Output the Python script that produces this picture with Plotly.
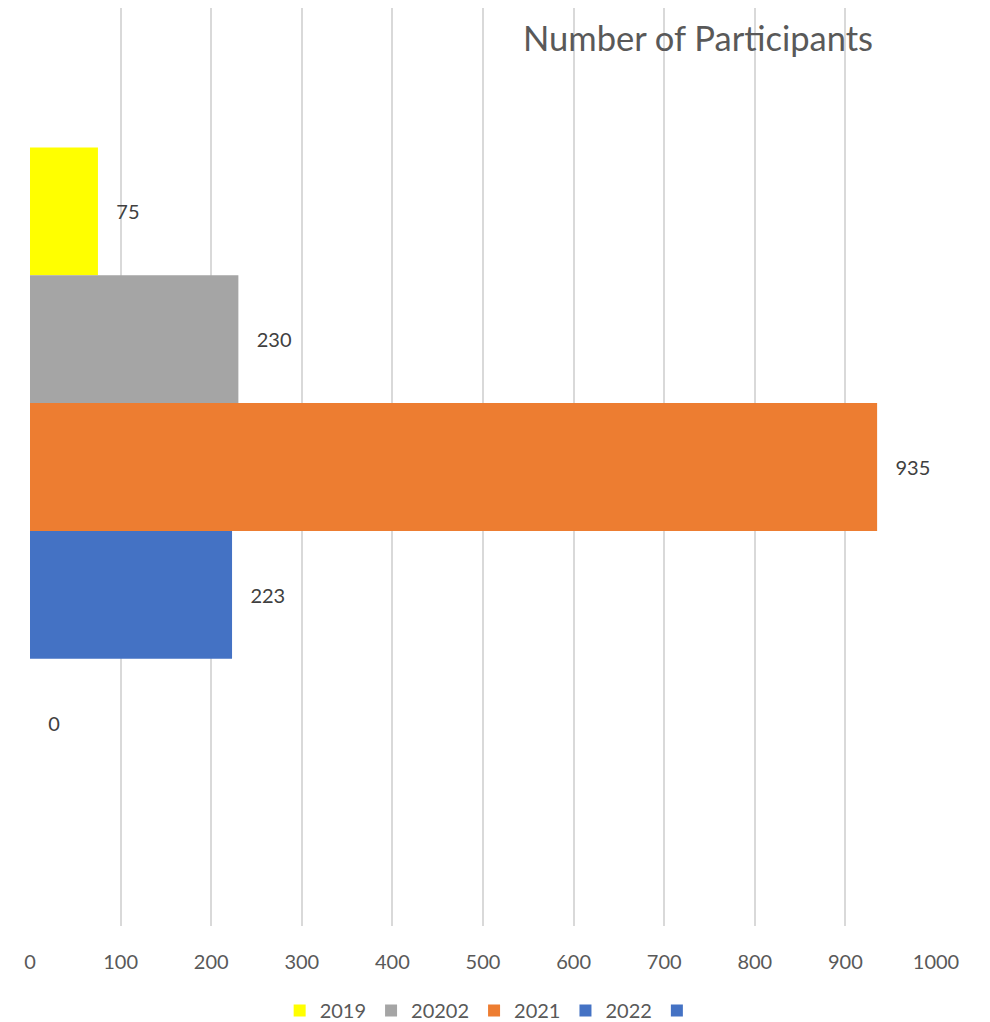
import plotly.graph_objects as go

category = [""]
series_names = ["2019", "20202", "2021", "2022", ""]
series_values = [75, 230, 935, 223, 0]
series_colors = ["#FFFF00", "#A5A5A5", "#ED7D31", "#4472C4", "#4472C4"]
x_ticks = [0, 100, 200, 300, 400, 500, 600, 700, 800, 900, 1000]

FONT = "Lato, 'Open Sans', sans-serif"
pad = "\u00a0" * 3

fig = go.Figure()
for name, val, col in zip(series_names, series_values, series_colors):
    fig.add_trace(go.Bar(
        y=category, x=[val], name=name, orientation="h",
        marker=dict(color=col, line=dict(width=0)),
        text=[val], texttemplate=pad + "%{x}", textposition="outside",
        textfont=dict(family=FONT, size=20, color="#404040"),
        cliponaxis=False, showlegend=True,
    ))

fig.update_layout(
    width=990, height=1022,
    margin=dict(l=22, r=62, t=0, b=104),
    paper_bgcolor="white", plot_bgcolor="white",
    barmode="group", bargap=0.304, bargroupgap=0,
    font=dict(family=FONT, size=20, color="#595959"),
    title=dict(text="Number of Participants", x=0.697, xanchor="center",
               y=0.97, yanchor="middle", font=dict(family=FONT, size=34.5, color="#595959")),
    xaxis=dict(range=[0, 1000], tickvals=x_ticks, showgrid=True, gridcolor="#D9D9D9",
               gridwidth=1.5, zeroline=False, showline=False, ticks="",
               ticklabelstandoff=22, tickfont=dict(family=FONT, size=20, color="#595959")),
    yaxis=dict(range=[0.5, -0.5], showticklabels=False, showgrid=False, zeroline=False,
               showline=False, ticks=""),
    legend=dict(orientation="h", x=0.509, xanchor="center", y=-0.092, yanchor="middle",
                font=dict(family=FONT, size=20, color="#595959"), itemwidth=30,
                traceorder="normal"),
)

fig.write_html("out.html")
